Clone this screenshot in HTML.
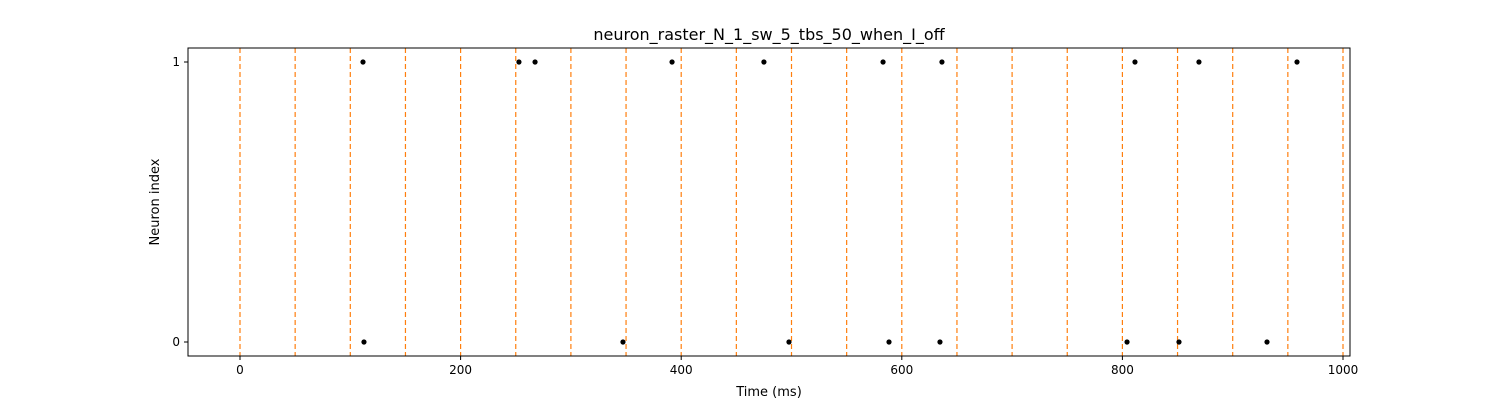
<!DOCTYPE html>
<html><head><meta charset="utf-8"><style>
body{margin:0;background:#fff;width:1500px;height:400px;overflow:hidden;font-family:"Liberation Sans","DejaVu Sans",sans-serif}
text{font-family:"DejaVu Sans","Liberation Sans",sans-serif}
</style></head><body>
<svg id="chart" width="1500" height="400" xmlns="http://www.w3.org/2000/svg"></svg>
<script>
const neuron1Times = [111.5, 252.9, 267.5, 391.7, 475, 583, 636.4, 811.4, 869.4, 958.3];
const neuron0Times = [112.4, 347.2, 497.7, 588.4, 634.6, 804.2, 851.3, 931.1];
const xTicks = [0, 200, 400, 600, 800, 1000];
const yTicks = [0, 1];
const stimTimes = [0,50,100,150,200,250,300,350,400,450,500,550,600,650,700,750,800,850,900,950,1000];

const NS = "http://www.w3.org/2000/svg";
const svg = document.getElementById('chart');
const L=188, R=1350, T=48, B=356;
const xs = v => 240 + v * (1343-240)/1000;
const ys = v => 342 - v * (342-62);
function mk(tag, attrs, parent){const e=document.createElementNS(NS,tag);for(const k in attrs)e.setAttribute(k,attrs[k]);(parent||svg).appendChild(e);return e;}

const stimG = mk('g',{});


stimTimes.forEach(t=>{
  const l = mk('line',{x1:xs(t),x2:xs(t),y1:T,y2:B,stroke:'#ff7f0e','stroke-width':1.2,'stroke-dasharray':'5,3'},stimG);
  
  
});
[[neuron0Times,0],[neuron1Times,1]].forEach(([arr,idx])=>{
  arr.forEach(t=>{
    const c = mk('circle',{cx:xs(t),cy:ys(idx),r:2.6,fill:'#000'});
    
    
  });
});
const frame = mk('rect',{x:L,y:T,width:R-L,height:B-T,fill:'none',stroke:'#000','stroke-width':1});


xTicks.forEach(v=>{
  mk('line',{x1:xs(v),x2:xs(v),y1:B,y2:B+4,stroke:'#000'});
  const t = mk('text',{x:xs(v),y:B+18,'text-anchor':'middle','font-size':12});
  t.textContent=v;
  
  
});
yTicks.forEach(v=>{
  mk('line',{x1:L-4,x2:L,y1:ys(v),y2:ys(v),stroke:'#000'});
  const t = mk('text',{x:L-8,y:ys(v)+4,'text-anchor':'end','font-size':12});
  t.textContent=v;
  
  
});
const xt = mk('text',{x:769,y:396,'text-anchor':'middle','font-size':13});
xt.textContent='Time (ms)';


const yt = mk('text',{x:159,y:202,'text-anchor':'middle','font-size':13,transform:'rotate(-90 159 202)'});
yt.textContent='Neuron index';


const tt = mk('text',{x:769,y:40,'text-anchor':'middle','font-size':16});
tt.textContent='neuron_raster_N_1_sw_5_tbs_50_when_I_off';


</script>
</body></html>
